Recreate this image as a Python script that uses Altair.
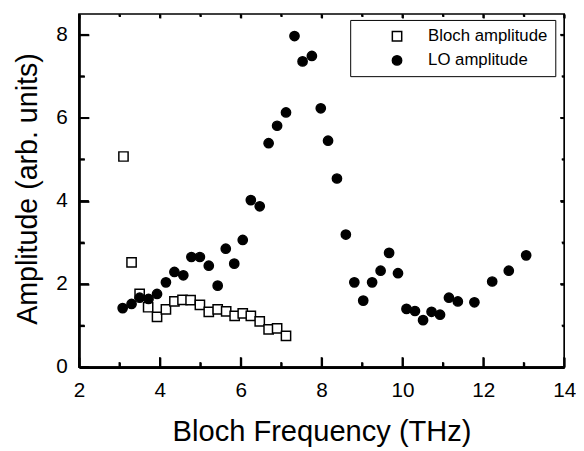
import altair as alt
import pandas as pd

# ---- data ----
bloch_freq = [3.10, 3.30, 3.50, 3.71, 3.93, 4.15, 4.36, 4.56, 4.76, 4.99,
              5.21, 5.43, 5.64, 5.85, 6.05, 6.25, 6.47, 6.69, 6.90, 7.12]
bloch_amp = [5.07, 2.52, 1.76, 1.44, 1.21, 1.39, 1.58, 1.62, 1.61, 1.50,
             1.33, 1.39, 1.34, 1.23, 1.29, 1.23, 1.10, 0.91, 0.93, 0.75]
lo_freq = [3.08, 3.30, 3.50, 3.72, 3.93, 4.15, 4.36, 4.58, 4.78, 4.99,
           5.21, 5.43, 5.63, 5.84, 6.05, 6.25, 6.47, 6.69, 6.90, 7.12,
           7.33, 7.53, 7.76, 7.98, 8.16, 8.38, 8.60, 8.81, 9.03, 9.25,
           9.46, 9.67, 9.89, 10.10, 10.31, 10.51, 10.72, 10.93, 11.15, 11.37,
           11.78, 12.22, 12.63, 13.06]
lo_amp = [1.42, 1.52, 1.67, 1.64, 1.76, 2.04, 2.29, 2.21, 2.65, 2.65,
          2.44, 1.96, 2.85, 2.49, 3.06, 4.02, 3.87, 5.39, 5.81, 6.13,
          7.97, 7.36, 7.49, 6.23, 5.45, 4.54, 3.19, 2.04, 1.60, 2.04,
          2.32, 2.75, 2.26, 1.40, 1.35, 1.13, 1.33, 1.26, 1.67, 1.58,
          1.56, 2.06, 2.32, 2.69]
series_names = ["Bloch amplitude", "LO amplitude"]

x_major = [2, 4, 6, 8, 10, 12, 14]
x_minor = [3, 5, 7, 9, 11, 13]
y_major = [0, 2, 4, 6, 8]
y_minor = [1, 3, 5, 7]

x_title = "Bloch Frequency (THz)"
y_title = "Amplitude (arb. units)"

# ---- tables ----
df = pd.concat([
    pd.DataFrame({"freq": bloch_freq, "amp": bloch_amp, "series": series_names[0]}),
    pd.DataFrame({"freq": lo_freq, "amp": lo_amp, "series": series_names[1]}),
], ignore_index=True)

W, H = 492, 358
X_DOM = [2, 14]
Y_DOM = [0, 8.5]
FONT = "Liberation Sans"
xscale = alt.Scale(domain=X_DOM, nice=False, zero=False)
yscale = alt.Scale(domain=Y_DOM, nice=False, zero=False)
PX_X = (X_DOM[1] - X_DOM[0]) / W   # data units per pixel
PX_Y = (Y_DOM[1] - Y_DOM[0]) / H


def tick_axis(orient, values, size, **kw):
    base = dict(orient=orient, values=values, offset=-size, tickSize=size,
                ticks=True, tickWidth=2, tickColor="#000000", tickOpacity=1,
                domain=False, grid=False, labels=False, title=None, zindex=2)
    base.update(kw)
    return alt.Axis(**base)


x_axis_main = tick_axis(
    "bottom", x_major, 10, labels=True, format="d",
    labelFontSize=21, labelFont=FONT, labelColor="black", labelPadding=12.5,
    labelFlush=False, labelOverlap=False,
    title=x_title, titleFontSize=29.5, titleFont=FONT, titleFontWeight="normal",
    titleColor="black", titleBaseline="alphabetic", titleY=84, titleX=246,
    titleAlign="center")
y_axis_main = tick_axis(
    "left", y_major, 10, labels=True, format="d",
    labelFontSize=21, labelFont=FONT, labelColor="black", labelPadding=12,
    labelFlush=False, labelOverlap=False,
    title=y_title, titleFontSize=29, titleFont=FONT, titleFontWeight="normal",
    titleColor="black", titleAngle=270, titleBaseline="alphabetic",
    titleX=-53, titleY=177, titleAlign="center")

legend = alt.Legend(
    title=None, orient="none", legendX=275, legendY=6, direction="vertical",
    strokeColor="black", fillColor="white", padding=8, rowPadding=6.5,
    symbolOffset=31, labelOffset=23, labelFontSize=17, labelFont=FONT,
    labelColor="black", symbolSize=90, symbolStrokeColor="black",
    symbolStrokeWidth=1.5, zindex=3,
)

points = alt.Chart(df).mark_point(
    stroke="black", strokeWidth=1.5, opacity=1, fillOpacity=1, size=88
).encode(
    x=alt.X("freq:Q", scale=xscale, axis=x_axis_main),
    y=alt.Y("amp:Q", scale=yscale, axis=y_axis_main),
    shape=alt.Shape("series:N", scale=alt.Scale(domain=series_names, range=["square", "circle"]), legend=legend),
    fill=alt.Fill("series:N", scale=alt.Scale(domain=series_names, range=["white", "black"]), legend=legend),
    stroke=alt.Stroke("series:N", scale=alt.Scale(domain=series_names, range=["black", "black"]), legend=legend),
)


def axis_layer(xa, ya):
    return alt.Chart(df).mark_point(opacity=0, size=1).encode(
        x=alt.X("freq:Q", scale=xscale, axis=xa),
        y=alt.Y("amp:Q", scale=yscale, axis=ya),
    )


minor_bl = axis_layer(tick_axis("bottom", x_minor, 5), tick_axis("left", y_minor, 5.5))
major_tr = axis_layer(tick_axis("top", x_major, 4), tick_axis("right", y_major, 4))
minor_tr = axis_layer(tick_axis("top", x_minor, 2.5), tick_axis("right", y_minor, 2.5))
frame_bl = axis_layer(
    alt.Axis(orient="bottom", domain=True, domainColor="black", domainWidth=2.7,
             ticks=False, labels=False, grid=False, title=None, offset=0, zindex=2),
    alt.Axis(orient="left", domain=True, domainColor="black", domainWidth=2.7,
             ticks=False, labels=False, grid=False, title=None, offset=0, zindex=2),
)


# inward tick segments drawn as rules through the shared scales
def x_tick_rules(values, px, top=False):
    ln = px * PX_Y
    lo, hi = (Y_DOM[1] - ln, Y_DOM[1]) if top else (Y_DOM[0], Y_DOM[0] + ln)
    d = pd.DataFrame({"freq": values, "amp": [lo] * len(values), "amp2": [hi] * len(values)})
    return alt.Chart(d).mark_rule(color="black", strokeWidth=1.8).encode(
        x=alt.X("freq:Q", scale=xscale, axis=None),
        y=alt.Y("amp:Q", scale=yscale, axis=None),
        y2="amp2:Q",
    )


def y_tick_rules(values, px, right=False):
    ln = px * PX_X
    lo, hi = (X_DOM[1] - ln, X_DOM[1]) if right else (X_DOM[0], X_DOM[0] + ln)
    d = pd.DataFrame({"amp": values, "freq": [lo] * len(values), "freq2": [hi] * len(values)})
    return alt.Chart(d).mark_rule(color="black", strokeWidth=1.8).encode(
        y=alt.Y("amp:Q", scale=yscale, axis=None),
        x=alt.X("freq:Q", scale=xscale, axis=None),
        x2="freq2:Q",
    )


rules = [
    x_tick_rules(x_major, 10), x_tick_rules(x_minor, 5),
    x_tick_rules(x_major, 4, top=True), x_tick_rules(x_minor, 2.5, top=True),
    y_tick_rules(y_major, 10), y_tick_rules(y_minor, 5.5),
    y_tick_rules(y_major, 4, right=True), y_tick_rules(y_minor, 2.5, right=True),
]

chart = alt.layer(points, minor_bl, major_tr, minor_tr, frame_bl, *rules).resolve_axis(
    x="independent", y="independent"
).properties(
    width=W, height=H,
    autosize=alt.AutoSizeParams(type="none"),
    padding={"left": 72, "top": 3, "right": 12, "bottom": 82},
    background="white",
).configure_view(stroke="black", strokeWidth=1.7)

chart.save("out.html", embed_options={"renderer": "svg", "actions": False})
